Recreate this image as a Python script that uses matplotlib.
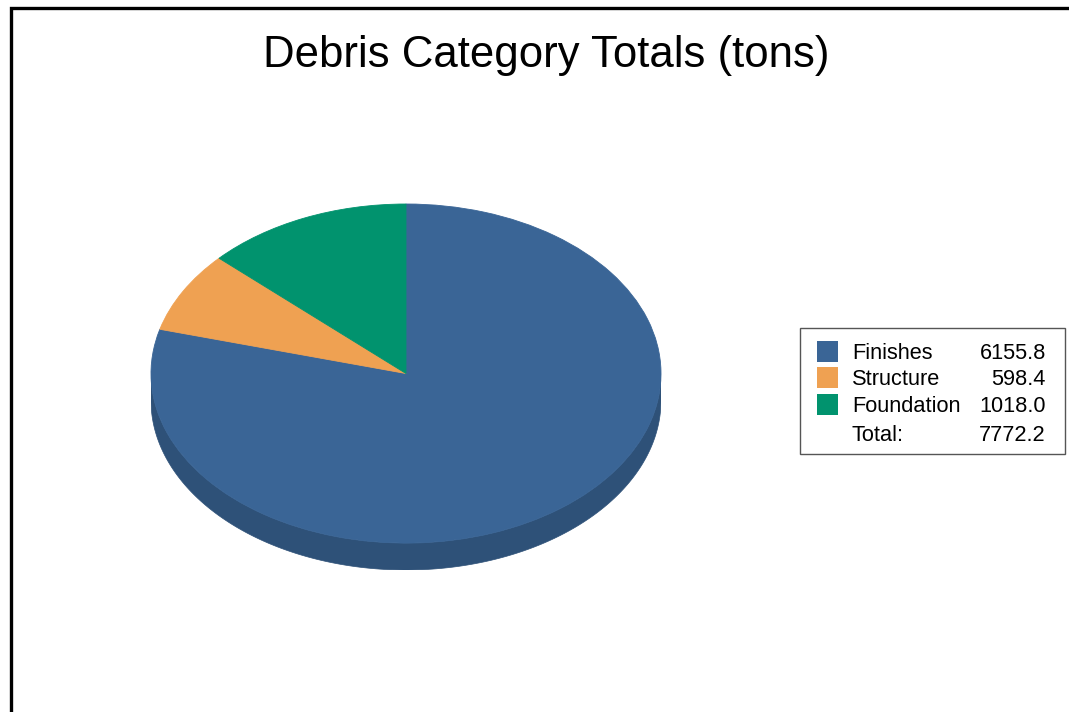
import numpy as np
import matplotlib
matplotlib.use("Agg")
import matplotlib.pyplot as plt
from matplotlib.patches import Rectangle
from matplotlib.colors import to_rgb

categories = ["Finishes", "Structure", "Foundation"]
tons = [6155.8, 598.4, 1018.0]
colors = ["#3a6596", "#efa152", "#01936e"]
title = "Debris Category Totals (tons)"

plt.rcParams['font.family'] = ['Liberation Sans', 'DejaVu Sans']

W, H = 1069, 712
fig = plt.figure(figsize=(W / 100, H / 100), dpi=100)


def fx(px):
    return px / W


def fy(py):
    return 1 - py / H


# frame around the chart (runs off the right/bottom edge)
fig.patches.append(Rectangle((fx(10.5), -0.1), 1.2, fy(7.5) + 0.1,
                             transform=fig.transFigure, fill=False,
                             edgecolor="black", linewidth=2.4, clip_on=False))

fig.text(fx(546), fy(67), title, ha="center", va="baseline", fontsize=31.5)

# pie axes: top ellipse 151..661 x 204..543, side down to 570
depth = 27 / 170
ax = fig.add_axes([fx(151), fy(570), fx(510), (570 - 204) / H])
ax.set_axis_off()

total = sum(tons)
start = 90.0
angles = []
for v in tons:
    sweep = 360.0 * v / total
    angles.append((start - sweep, start))
    start -= sweep

# side of the disc: only the front half (180..360 deg) is visible
for (a0, a1), c in zip(angles, colors):
    dark = tuple(np.array(to_rgb(c)) * 0.8)
    for off in (0, 360, -360):
        lo = max(a0 + off, 180)
        hi = min(a1 + off, 360)
        if hi > lo:
            t = np.radians(np.linspace(lo, hi, 200))
            xs = np.concatenate([np.cos(t), np.cos(t[::-1])])
            ys = np.concatenate([np.sin(t), np.sin(t[::-1]) - depth])
            ax.fill(xs, ys, color=dark, linewidth=0.5, edgecolor=dark)

wedges, _ = ax.pie(tons, colors=colors, startangle=90, counterclock=False,
                   radius=1, wedgeprops=dict(linewidth=0.6))
for w, c in zip(wedges, colors):
    w.set_edgecolor(c)
ax.set_aspect("auto")
ax.set_xlim(-1, 1)
ax.set_ylim(-1 - depth, 1)

# legend with values
fig.patches.append(Rectangle((fx(799.5), fy(453.5)), fx(1064.5 - 799.5),
                             (453.5 - 327.5) / H, transform=fig.transFigure,
                             fill=True, facecolor="white", edgecolor="#555555",
                             linewidth=1.0))
rows_base = [359, 385, 411.5]
for name, v, c, y in zip(categories, tons, colors, rows_base):
    fig.patches.append(Rectangle((fx(817), fy(y + 3)), fx(21), 21 / H,
                                 transform=fig.transFigure, facecolor=c,
                                 edgecolor="none"))
    fig.text(fx(852), fy(y), name, ha="left", va="baseline", fontsize=15.7)
    fig.text(fx(1046), fy(y), f"{v:.1f}", ha="right", va="baseline", fontsize=15.7)
fig.text(fx(852), fy(441.5), "Total:", ha="left", va="baseline", fontsize=15.7)
fig.text(fx(1046), fy(441.5), f"{total:.1f}", ha="right", va="baseline",
         fontsize=15.7)

fig.savefig("out.png", dpi=100)
